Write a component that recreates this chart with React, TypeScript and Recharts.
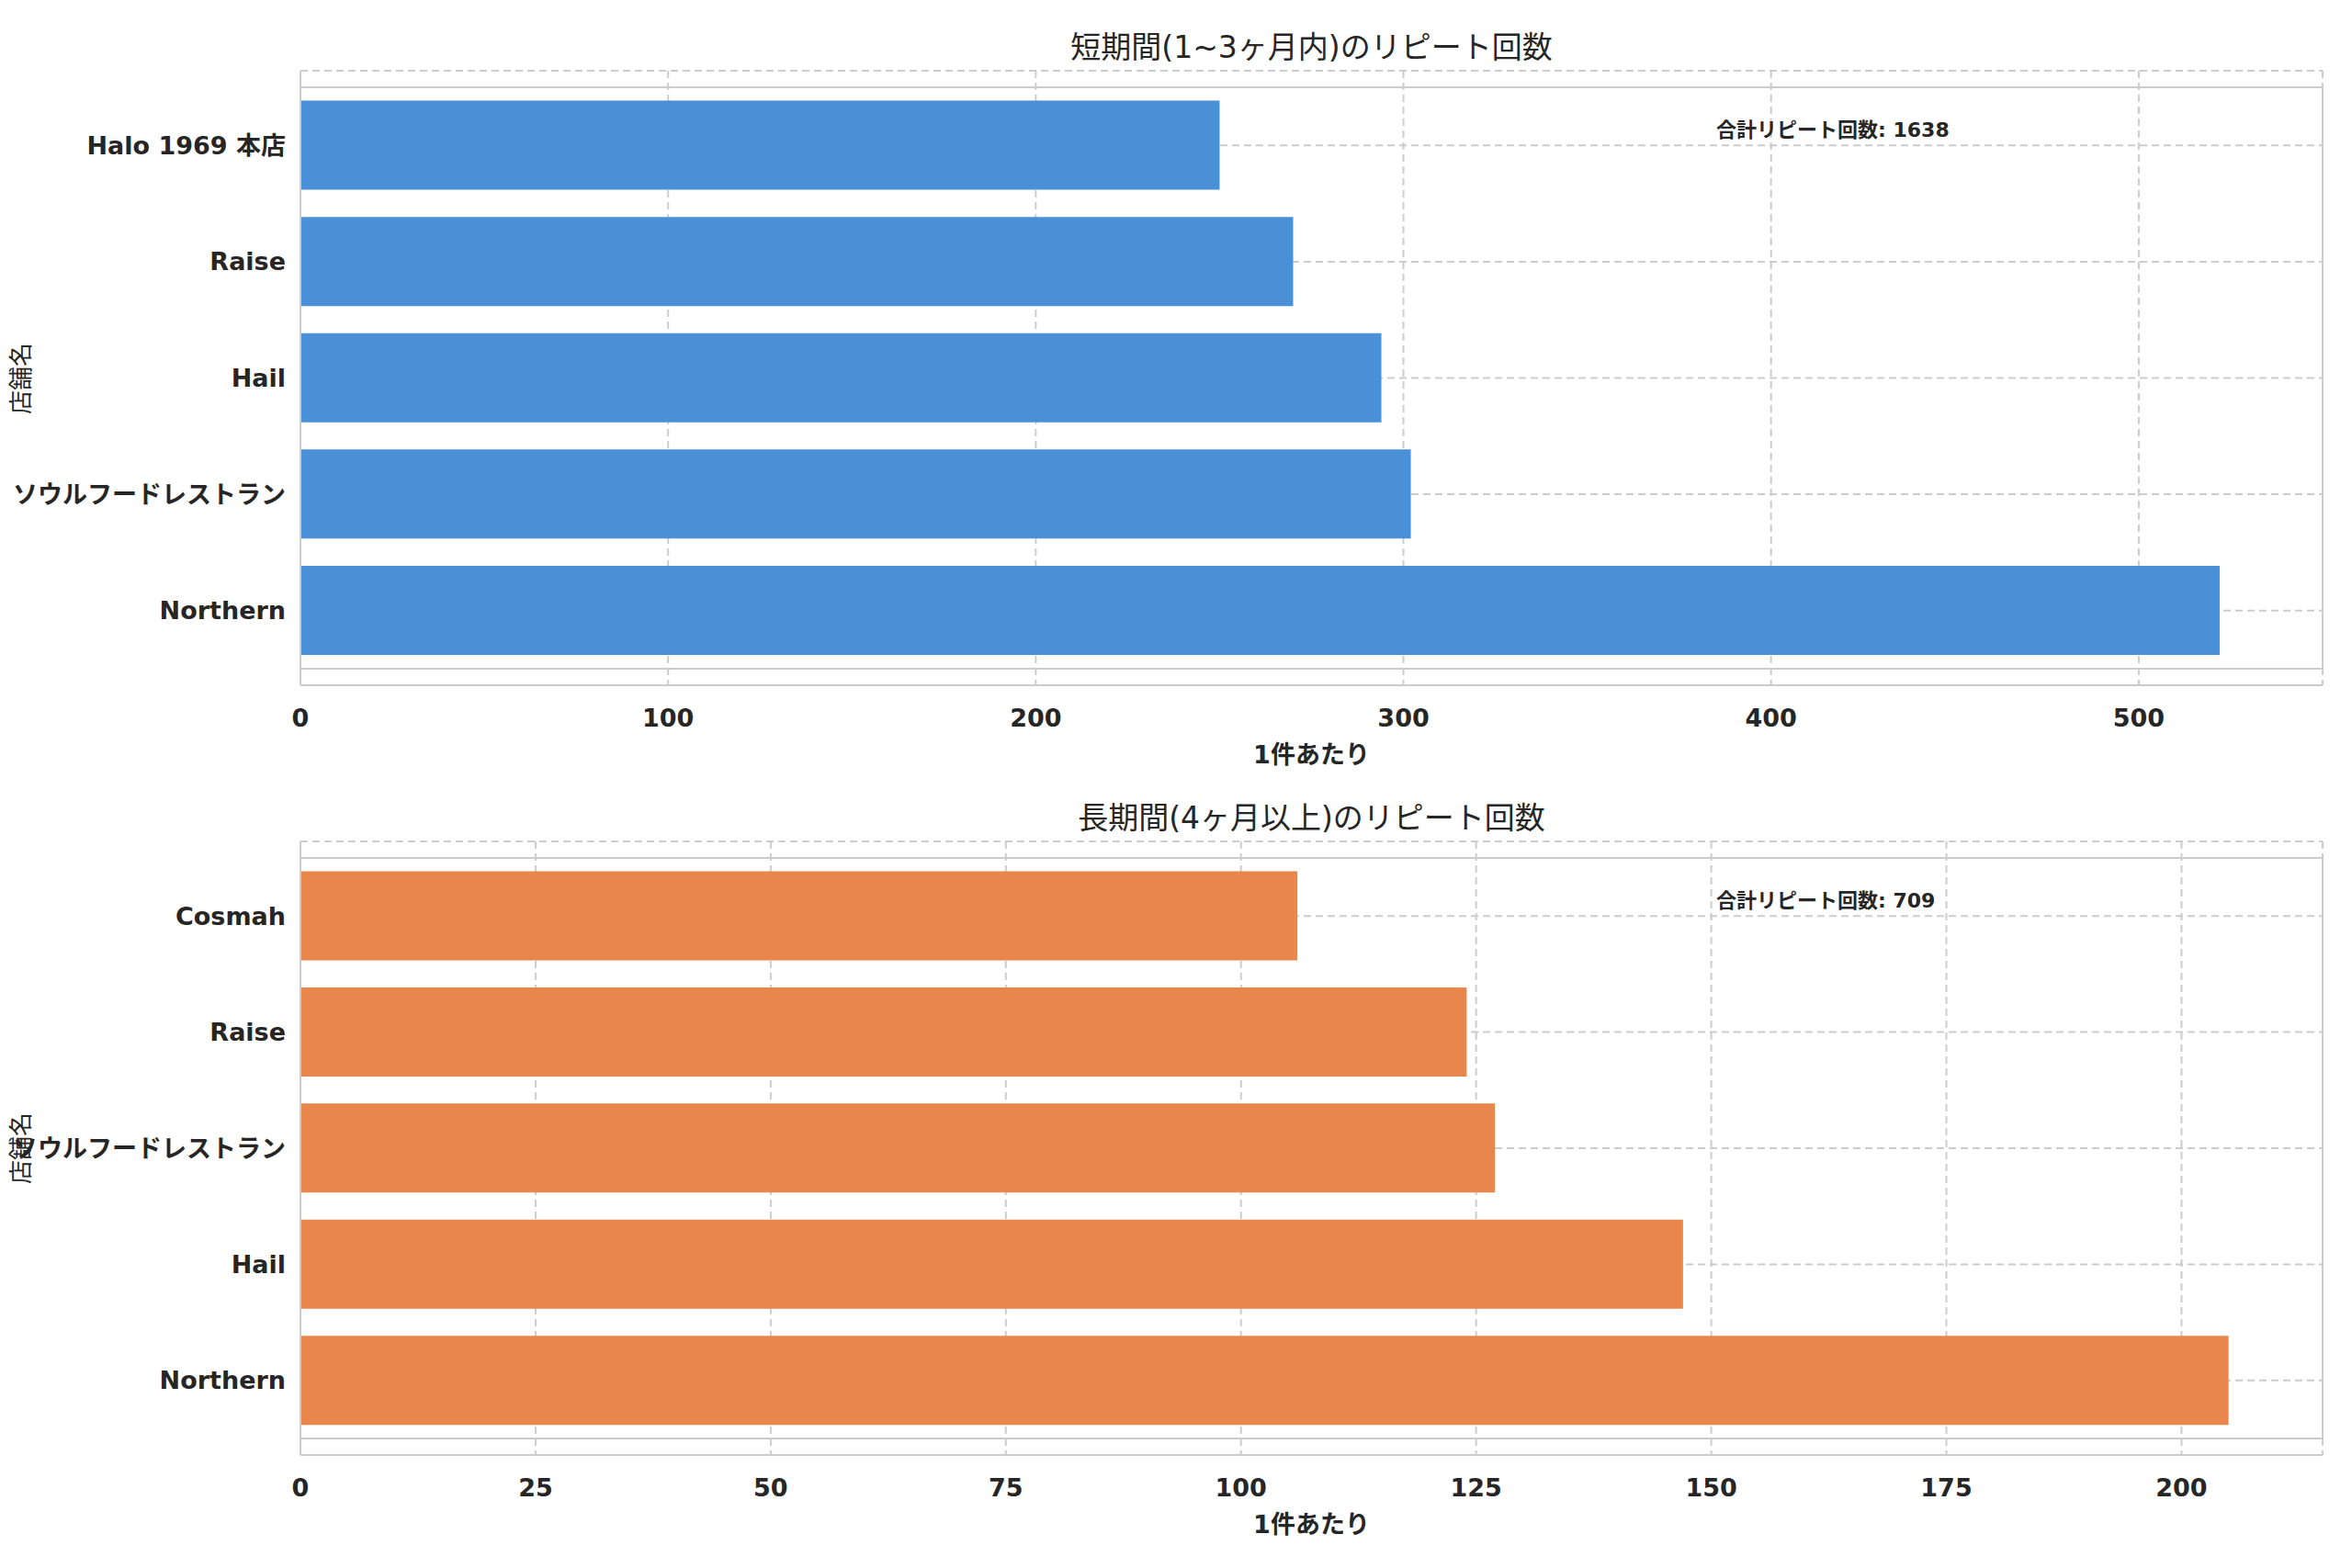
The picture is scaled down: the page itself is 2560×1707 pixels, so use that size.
import { BarChart, Bar, XAxis, YAxis, CartesianGrid, ReferenceArea } from "recharts";

const shortStores = ["Halo 1969 本店", "Raise", "Hail", "ソウルフードレストラン", "Northern"];
const shortCounts = [250, 270, 294, 302, 522];
const shortTicks = [0, 100, 200, 300, 400, 500];

const longStores = ["Cosmah", "Raise", "ソウルフードレストラン", "Hail", "Northern"];
const longCounts = [106, 124, 127, 147, 205];
const longTicks = [0, 25, 50, 75, 100, 125, 150, 175, 200];

const FONT = "'DejaVu Sans', 'Noto Sans CJK JP', sans-serif";
const TXT = "#262626";

function Panel({ top, height, plotTop, axisH, stores, counts, ticks, max, color, title, total, ylabelX }: any) {
  const data = stores.map((s: string, i: number) => ({ store: s, count: counts[i] }));
  return (
    <div style={{ position: "absolute", left: 0, top, width: 2560, height }}>
      <BarChart width={2560} height={height} data={data} layout="vertical"
        margin={{ top: plotTop, right: 32, left: 0, bottom: 0 }} barCategoryGap="11.5%">
        <CartesianGrid stroke="#cccccc" strokeDasharray="8 5" strokeWidth={2} />
        <XAxis type="number" domain={[0, max]} ticks={ticks} height={axisH} tickLine={false}
          axisLine={{ stroke: "#cccccc", strokeWidth: 2 }}
          tick={{ fill: TXT, fontSize: 27, fontWeight: "bold", fontFamily: FONT, dy: 18 }}
          label={{ value: "1件あたり", position: "insideTop", offset: 66, fill: TXT, fontSize: 27, fontWeight: "bold", fontFamily: FONT }} />
        <YAxis type="category" dataKey="store" width={327} tickLine={false} padding={{ top: 18, bottom: 18 }}
          axisLine={{ stroke: "#cccccc", strokeWidth: 2 }}
          tick={{ fill: TXT, fontSize: 27, fontWeight: "bold", fontFamily: FONT, dx: -8 }} />
        <ReferenceArea x1={0} x2={max} fill="none" stroke="#cccccc" strokeWidth={2} ifOverflow="visible" />
        <Bar dataKey="count" fill={color} isAnimationActive={false} />
      </BarChart>
      <div style={{ position: "absolute", left: 327, width: 2201, top: plotTop - 52, textAlign: "center", fontFamily: FONT, fontSize: 33, color: TXT }}>{title}</div>
      <div style={{ position: "absolute", left: 1868, top: plotTop + 46, fontFamily: FONT, fontSize: 22, fontWeight: "bold", color: TXT }}>合計リピート回数: {total}</div>
      <div style={{ position: "absolute", left: ylabelX, top: plotTop + (height - plotTop - axisH) / 2, transform: "translate(-50%,-50%) rotate(-90deg)", fontFamily: FONT, fontSize: 26, color: TXT, whiteSpace: "nowrap" }}>店舗名</div>
    </div>
  );
}

export default function App() {
  return (
    <div style={{ position: "absolute", left: 0, top: 0, width: 2560, height: 1707, background: "#fff" }}>
      <Panel top={0} height={853} plotTop={77} axisH={107} stores={shortStores} counts={shortCounts}
        ticks={shortTicks} max={550} color="#4a90d9" title="短期間(1~3ヶ月内)のリピート回数" total={1638} ylabelX={20} />
      <Panel top={853} height={854} plotTop={63} axisH={123} stores={longStores} counts={longCounts}
        ticks={longTicks} max={215} color="#e8864c" title="長期間(4ヶ月以上)のリピート回数" total={709} ylabelX={20} />
    </div>
  );
}
